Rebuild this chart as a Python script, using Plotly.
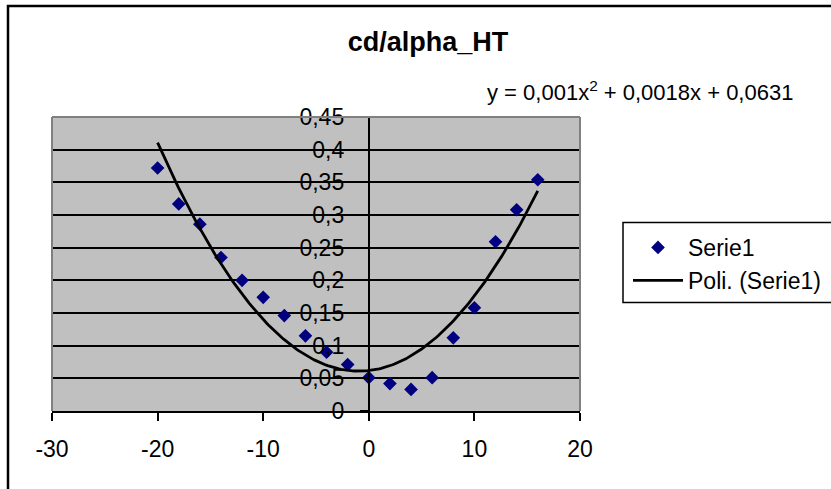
import numpy as np
import plotly.graph_objects as go

# ---- data ----
alpha = [-20, -18, -16, -14, -12, -10, -8, -6, -4, -2, 0, 2, 4, 6, 8, 10, 12, 14, 16]
cd = [0.372, 0.317, 0.286, 0.235, 0.200, 0.174, 0.146, 0.115, 0.090, 0.071,
      0.051, 0.042, 0.033, 0.051, 0.112, 0.158, 0.259, 0.308, 0.354]
x_tick_vals = [-30, -20, -10, 0, 10, 20]
x_tick_labels = ["-30", "-20", "-10", "0", "10", "20"]
y_tick_vals = [0, 0.05, 0.1, 0.15, 0.2, 0.25, 0.3, 0.35, 0.4, 0.45]
y_tick_labels = ["0", "0,05", "0,1", "0,15", "0,2", "0,25", "0,3", "0,35", "0,4", "0,45"]
eq_coeffs = ["0,001", "0,0018", "0,0631"]
title_text = "cd/alpha_HT"
series_name = "Serie1"
trend_name = "Poli. (Serie1)"

# ---- trendline (2nd-order polynomial fit of the series) ----
coef = np.polyfit(alpha, cd, 2)
xs = np.linspace(min(alpha), max(alpha), 200)
ys = np.polyval(coef, xs)

# ---- layout geometry (pixels) ----
W, H = 831, 489
PL, PR, PT, PB = 52, 580, 117, 411


def px_x(p):
    return (p - PL) / (PR - PL)


def px_y(p):
    return (PB - p) / (PB - PT)


FONT = "Liberation Sans, Arial, sans-serif"

fig = go.Figure()
fig.add_trace(go.Scatter(
    x=alpha, y=cd, mode="markers", name=series_name,
    marker=dict(symbol="diamond", size=10.5, color="#000080", line=dict(width=0)),
))
fig.add_trace(go.Scatter(
    x=xs, y=ys, mode="lines", name=trend_name,
    line=dict(color="black", width=2.8),
))

xr = [-30, 20]
fig.update_layout(
    width=W, height=H,
    margin=dict(l=PL, r=W - PR, t=PT, b=H - PB, autoexpand=False),
    paper_bgcolor="white",
    plot_bgcolor="#C0C0C0",
    separators=",.",
    font=dict(family=FONT, size=23, color="black"),
    title=dict(text=title_text, x=428 / W, xanchor="center",
               y=1 - 42 / H, yanchor="middle",
               font=dict(family=FONT, size=27, color="black", weight="bold")),
    showlegend=True,
    legend=dict(x=px_x(628), y=px_y(226), xanchor="left", yanchor="top",
                bgcolor="rgba(0,0,0,0)", borderwidth=0,
                font=dict(family=FONT, size=23, color="black"),
                itemwidth=50),
    xaxis=dict(range=xr, tickvals=x_tick_vals, ticktext=x_tick_labels,
               showgrid=False, zeroline=False,
               showline=True, linecolor="black", linewidth=2,
               ticks="outside", ticklen=8, tickwidth=2, tickcolor="black",
               ticklabelstandoff=8,
               tickfont=dict(family=FONT, size=23, color="black")),
    yaxis=dict(range=[0, 0.45], tickvals=y_tick_vals, ticktext=y_tick_labels,
               showgrid=True, gridcolor="black", gridwidth=2,
               zeroline=False,
               showline=True, linecolor="black", linewidth=2,
               ticks="outside", ticklen=8, tickwidth=2, tickcolor="black",
               anchor="free", position=(0 - xr[0]) / (xr[1] - xr[0]),
               ticklabelstandoff=11,
               tickfont=dict(family=FONT, size=23, color="black")),
    annotations=[dict(
        text="y = %sx<sup>2</sup> + %sx + %s" % tuple(eq_coeffs),
        xref="paper", yref="paper", x=px_x(640), y=px_y(91),
        xanchor="center", yanchor="middle", showarrow=False,
        font=dict(family=FONT, size=22, color="black"))],
    shapes=[
        # plot area border (gray) left, top, right
        dict(type="line", xref="paper", yref="paper", x0=0, x1=0, y0=0, y1=1,
             line=dict(color="#808080", width=2), layer="above"),
        dict(type="line", xref="paper", yref="paper", x0=0, x1=1, y0=1, y1=1,
             line=dict(color="#808080", width=2), layer="above"),
        dict(type="line", xref="paper", yref="paper", x0=1, x1=1, y0=0, y1=1,
             line=dict(color="#808080", width=2), layer="above"),
        # legend box
        dict(type="rect", xref="paper", yref="paper",
             x0=px_x(623), x1=px_x(850), y0=px_y(302.5), y1=px_y(222.5),
             line=dict(color="black", width=1.5), fillcolor="rgba(0,0,0,0)"),
        # chart area border
        dict(type="rect", xref="paper", yref="paper",
             x0=px_x(8), x1=px_x(860), y0=px_y(520), y1=px_y(6),
             line=dict(color="black", width=2.5), fillcolor="rgba(0,0,0,0)"),
    ],
)

fig.write_html("out.html")
